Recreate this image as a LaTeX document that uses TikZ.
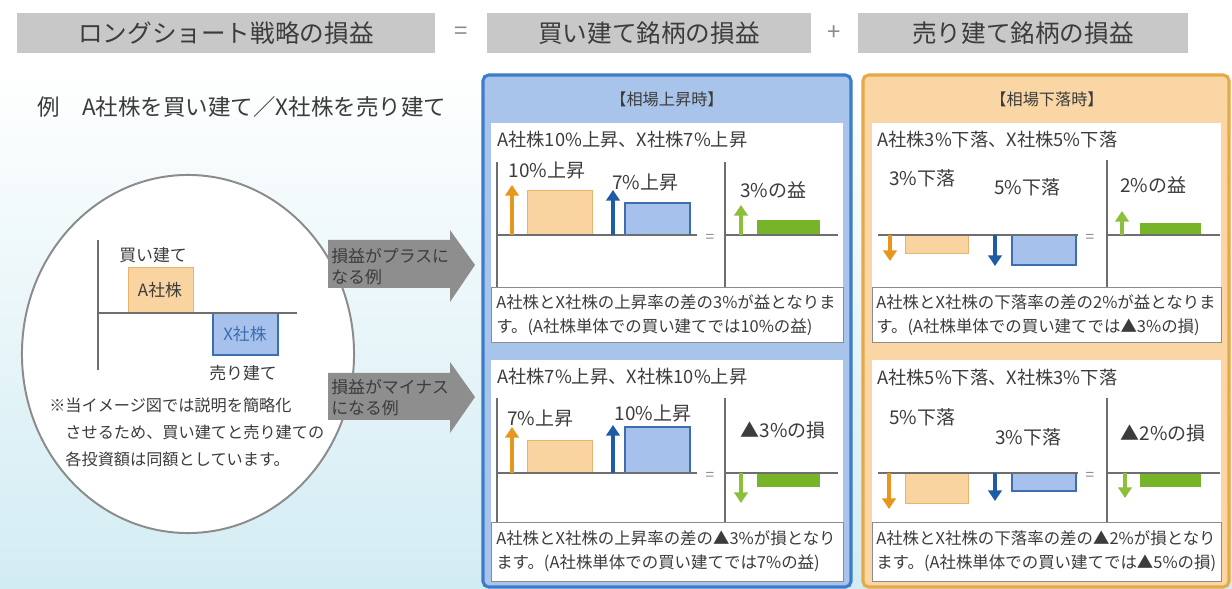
\documentclass[tikz,border=0pt]{standalone}
\usepackage{fontspec}
\setmainfont{Noto Sans CJK JP}
\usepackage{tikz}
\usetikzlibrary{arrows.meta,shapes.geometric}

\definecolor{hdrgray}{HTML}{C8C8C8}
\definecolor{txtgray}{HTML}{3C3C3C}
\definecolor{upblue}{HTML}{3C7CC8}
\definecolor{upfill}{HTML}{A9C4EA}
\definecolor{downorange}{HTML}{E8A848}
\definecolor{downfill}{HTML}{F9D6A4}
\definecolor{barorange}{HTML}{F9D3A0}
\definecolor{barorangeline}{HTML}{E6B46A}
\definecolor{arroworange}{HTML}{E8961E}
\definecolor{barblue}{HTML}{A6C2EC}
\definecolor{barblueline}{HTML}{3E6EB0}
\definecolor{arrowblue}{HTML}{1E5CA6}
\definecolor{bargreen}{HTML}{78B42A}
\definecolor{arrowgreen}{HTML}{8CC03C}
\definecolor{axisgray}{HTML}{6E6E6E}
\definecolor{boxgray}{HTML}{8C8C8C}
\definecolor{bgblue}{HTML}{D2ECF3}
\definecolor{bigarrowgray}{HTML}{8E8E8E}

\tikzset{
  lbl/.style={text=txtgray, inner sep=0pt, font=\fontsize{13.5}{16}\selectfont},
  small/.style={lbl, font=\fontsize{12}{17}\selectfont},
  hdrbox/.style={fill=hdrgray, text=txtgray, minimum height=1cm, inner sep=0pt,
    font=\fontsize{17.5}{20}\selectfont},
  ax/.style={draw=axisgray, line width=1.6pt},
  obar/.style={fill=barorange, draw=barorangeline, line width=0.6pt},
  bbar/.style={fill=barblue, draw=barblueline, line width=0.8pt},
  gbar/.style={fill=bargreen},
  oarrow/.style={draw=arroworange, line width=3pt, -{Triangle[width=9.5pt,length=7.5pt]}},
  barrow/.style={oarrow, draw=arrowblue},
  garrow/.style={oarrow, draw=arrowgreen},
  eqsign/.style={lbl, text=boxgray, font=\fontsize{11}{12}\selectfont},
}

\begin{document}
\begin{tikzpicture}[x=0.025cm, y=-0.025cm]
  \useasboundingbox (0,0) rectangle (1232,589);
  \fill[white] (0,0) rectangle (1232,589);
  \shade[top color=white, bottom color=bgblue] (0,65) rectangle (1232,589);

  % header
  \node[hdrbox, minimum width=10.45cm] (hdrTotal) at (226,33) {ロングショート戦略の損益};
  \node[lbl, text=boxgray, font=\fontsize{17}{20}\selectfont] (eqTop) at (461,33) {=};
  \node[hdrbox, minimum width=8.12cm] (hdrLong) at (649,33) {買い建て銘柄の損益};
  \node[lbl, text=boxgray, font=\fontsize{17}{20}\selectfont] (plusTop) at (834,33) {+};
  \node[hdrbox, minimum width=8.25cm] (hdrShort) at (1023,33) {売り建て銘柄の損益};

  % left
  \node[lbl, anchor=west, font=\fontsize{16}{18}\selectfont] (exLine) at (37,107)
    {例\hspace{1em}A社株を買い建て／X社株を売り建て};
  \node[draw=boxgray, line width=1.4pt, fill=white, ellipse,
    minimum width=8.3cm, minimum height=8.95cm] (circ) at (188,354) {};
  \draw[ax] (98,240) -- (98,370);
  \draw[obar] (128,267) rectangle (193,313);
  \draw[bbar] (213,313) rectangle (278,355);
  \draw[ax] (98,313) -- (297,313);
  \node[small] (longLbl) at (153,255) {買い建て};
  \node[small] (boxA) at (160,290) {A社株};
  \node[small, text=barblueline] (boxX) at (245,334) {X社株};
  \node[small] (shortLbl) at (243,373) {売り建て};
  \node[lbl, anchor=north west, align=left, font=\fontsize{11.5}{19.2}\selectfont] (note) at (49,398)
    {※当イメージ図では説明を簡略化\\\hspace{1em}させるため、買い建てと売り建ての\\\hspace{1em}各投資額は同額としています。};

  % big arrows
  \fill[bigarrowgray] (328,240) -- (450,240) -- (450,230) -- (475,265)
    -- (450,302) -- (450,288) -- (328,288) -- cycle;
  \node[small, anchor=west, align=left, font=\fontsize{12}{15}\selectfont] (plusCase) at (331,267)
    {損益がプラスに\\なる例};
  \fill[bigarrowgray] (328,373) -- (450,373) -- (450,362) -- (475,397)
    -- (450,433) -- (450,420) -- (328,420) -- cycle;
  \node[small, anchor=west, align=left, font=\fontsize{12}{15}\selectfont] (minusCase) at (331,398)
    {損益がマイナス\\になる例};

  % rising market
  \draw[upblue, line width=2.2pt, fill=upfill, rounded corners=4pt] (483,75) rectangle (851,587);
  \node[lbl, font=\fontsize{11.5}{14}\selectfont] (upHead) at (667,99) {【相場上昇時】};
  \fill[white] (491,123) rectangle (843,287);
  \draw[boxgray, fill=white] (491,287) rectangle (843,342);
  \fill[white] (491,360) rectangle (843,522);
  \draw[boxgray, fill=white] (491,522) rectangle (843,581);
  % rising, gain
  \node[lbl, anchor=west, font=\fontsize{13}{16}\selectfont] (upTitleA) at (497,140) {A社株10\%上昇、X社株7\%上昇};
  \draw[ax] (497,162) -- (497,287);
  \draw[ax] (725,162) -- (725,287);
  \draw[obar] (527,190) rectangle (592,235);
  \draw[bbar] (625,203) rectangle (690,235);
  \fill[gbar] (757,220) rectangle (820,235);
  \draw[ax] (497,235) -- (697,235);
  \draw[ax] (725,235) -- (838,235);
  \draw[oarrow] (512,235) -- (512,185);
  \draw[barrow] (613,235) -- (613,190);
  \draw[garrow] (741,235) -- (741,205);
  \node[lbl] (upLongA) at (547,170) {10\%上昇};
  \node[lbl] (upShortA) at (645,182) {7\%上昇};
  \node[lbl] (upNetA) at (773,190) {3\%の益};
  \node[eqsign] (upEqA) at (710,238) {=};
  \node[small, anchor=west, align=left, font=\fontsize{11.7}{17}\selectfont] (upNoteA) at (496,315)
    {A社株とX社株の上昇率の差の3\%が益となりま\\す。(A社株単体での買い建てでは10\%の益)};
  % rising, loss
  \node[lbl, anchor=west, font=\fontsize{13}{16}\selectfont] (upTitleB) at (497,377) {A社株7\%上昇、X社株10\%上昇};
  \draw[ax] (497,398) -- (497,522);
  \draw[ax] (725,398) -- (725,522);
  \draw[obar] (527,440) rectangle (592,473);
  \draw[bbar] (625,427) rectangle (690,473);
  \fill[gbar] (757,473) rectangle (820,487);
  \draw[ax] (497,473) -- (697,473);
  \draw[ax] (725,473) -- (838,473);
  \draw[oarrow] (512,473) -- (512,427);
  \draw[barrow] (613,473) -- (613,425);
  \draw[garrow] (741,473) -- (741,503);
  \node[lbl] (upLongB) at (540,418) {7\%上昇};
  \node[lbl] (upShortB) at (653,413) {10\%上昇};
  \node[lbl] (upNetB) at (783,430) {▲3\%の損};
  \node[eqsign] (upEqB) at (710,476) {=};
  \node[small, anchor=west, align=left, font=\fontsize{11.7}{17}\selectfont] (upNoteB) at (496,551)
    {A社株とX社株の上昇率の差の▲3\%が損となり\\ます。(A社株単体での買い建てでは7\%の益)};

  % falling market
  \draw[downorange, line width=2.2pt, fill=downfill, rounded corners=4pt] (863,75) rectangle (1229,587);
  \node[lbl, font=\fontsize{11.5}{14}\selectfont] (downHead) at (1047,99) {【相場下落時】};
  \fill[white] (872,123) rectangle (1221,287);
  \draw[boxgray, fill=white] (872,287) rectangle (1221,342);
  \fill[white] (872,360) rectangle (1221,522);
  \draw[boxgray, fill=white] (872,522) rectangle (1221,581);
  % falling, gain
  \node[lbl, anchor=west, font=\fontsize{13}{16}\selectfont] (downTitleA) at (877,140) {A社株3\%下落、X社株5\%下落};
  \draw[ax] (1107,160) -- (1107,287);
  \draw[obar] (905,235) rectangle (968,253);
  \draw[bbar] (1012,235) rectangle (1076,265);
  \fill[gbar] (1140,223) rectangle (1201,235);
  \draw[ax] (878,235) -- (1078,235);
  \draw[ax] (1107,235) -- (1220,235);
  \draw[oarrow] (890,235) -- (890,261);
  \draw[barrow] (995,235) -- (995,266);
  \draw[garrow] (1122,235) -- (1122,211);
  \node[lbl] (downLongA) at (922,178) {3\%下落};
  \node[lbl] (downShortA) at (1027,187) {5\%下落};
  \node[lbl] (downNetA) at (1153,185) {2\%の益};
  \node[eqsign] (downEqA) at (1090,238) {=};
  \node[small, anchor=west, align=left, font=\fontsize{11.7}{17}\selectfont] (downNoteA) at (876,315)
    {A社株とX社株の下落率の差の2\%が益となりま\\す。(A社株単体での買い建てでは▲3\%の損)};
  % falling, loss
  \node[lbl, anchor=west, font=\fontsize{13}{16}\selectfont] (downTitleB) at (877,378) {A社株5\%下落、X社株3\%下落};
  \draw[ax] (1107,398) -- (1107,522);
  \draw[obar] (905,473) rectangle (968,503);
  \draw[bbar] (1012,473) rectangle (1076,491);
  \fill[gbar] (1140,473) rectangle (1201,487);
  \draw[ax] (878,473) -- (1078,473);
  \draw[ax] (1107,473) -- (1220,473);
  \draw[oarrow] (889,473) -- (889,509);
  \draw[barrow] (995,473) -- (995,501);
  \draw[garrow] (1125,473) -- (1125,498);
  \node[lbl] (downLongB) at (922,417) {5\%下落};
  \node[lbl] (downShortB) at (1028,437) {3\%下落};
  \node[lbl] (downNetB) at (1163,433) {▲2\%の損};
  \node[eqsign] (downEqB) at (1090,476) {=};
  \node[small, anchor=west, align=left, font=\fontsize{11.7}{17}\selectfont] (downNoteB) at (876,551)
    {A社株とX社株の下落率の差の▲2\%が損となり\\ます。(A社株単体での買い建てでは▲5\%の損)};
\end{tikzpicture}
\end{document}
